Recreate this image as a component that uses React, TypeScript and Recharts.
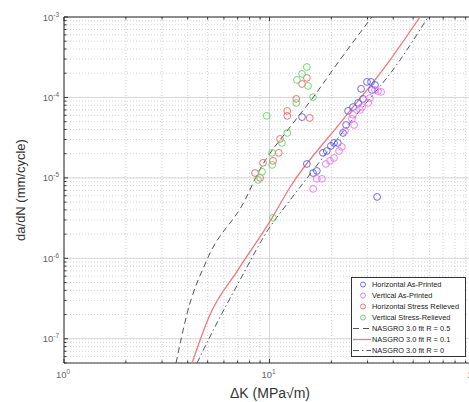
import React from "react"
import { ScatterChart, Scatter, XAxis, YAxis, CartesianGrid, ReferenceLine } from "recharts"

// ΔK (MPa√m) and da/dN (mm/cycle)
const horizontalAsPrintedK = [14.4, 15.2, 16.3, 17.0, 18.2, 19.0, 19.9, 20.6, 21.5, 22.8, 23.6, 24.1, 25.5, 27.0, 27.9, 28.5, 29.8, 31.2, 32.6, 31.5, 33.4]
const horizontalAsPrintedRate = [5.7e-5, 1.49e-5, 1.15e-5, 1.22e-5, 2.05e-5, 2.16e-5, 2.5e-5, 2.72e-5, 2.72e-5, 3.62e-5, 4.55e-5, 6.8e-5, 7.6e-5, 8.55e-5, 1.28e-4, 9.6e-5, 1.56e-4, 1.56e-4, 1.43e-4, 1.24e-4, 5.8e-6]

const verticalAsPrintedK = [32.6, 33.7, 34.9, 30.8, 30.2, 28.2, 27.6, 25.5, 25.2, 25.8, 23.3, 22.5, 21.8, 20.6, 19.7, 18.8, 18.0, 17.0, 16.3]
const verticalAsPrintedRate = [1.24e-4, 1.2e-4, 1.17e-4, 9.86e-5, 8.55e-5, 7.62e-5, 7.0e-5, 6.07e-5, 5.41e-5, 4.55e-5, 3.84e-5, 2.43e-5, 2.16e-5, 1.77e-5, 1.63e-5, 1.49e-5, 9.72e-6, 9.72e-6, 7.3e-6]

const horizontalRelievedK = [15.2, 14.4, 13.5, 12.2, 12.2, 15.7, 11.25, 11.1, 10.4, 9.3, 8.5, 9.0]
const horizontalRelievedRate = [1.75e-4, 1.47e-4, 9.6e-5, 6.8e-5, 5.9e-5, 5.56e-5, 3.05e-5, 2.05e-5, 1.63e-5, 1.54e-5, 1.15e-5, 1.0e-5]

const verticalRelievedK = [15.2, 14.4, 13.6, 15.4, 16.3, 13.5, 9.7, 12.2, 11.5, 10.3, 10.3, 9.2, 8.8, 10.4]
const verticalRelievedRate = [2.39e-4, 1.96e-4, 1.65e-4, 1.39e-4, 1.01e-4, 8.55e-5, 5.9e-5, 3.62e-5, 2.72e-5, 2.05e-5, 1.45e-5, 1.19e-5, 9.45e-6, 3.19e-6]

// NASGRO 3.0 fits
const fitR05K = [3.51, 3.97, 4.96, 7.6, 8.79, 12.6, 15.7, 22.0, 31.5]
const fitR05Rate = [5e-8, 2.05e-7, 9.6e-7, 5.3e-6, 1.15e-5, 4.3e-5, 8.8e-5, 2.92e-4, 1e-3]
const fitR01K = [4.2, 5.13, 7.03, 10.3, 12.6, 22.0, 38.6, 54.0]
const fitR01Rate = [5e-8, 1.99e-7, 7.2e-7, 3.19e-6, 7.7e-6, 4.75e-5, 2.92e-4, 1e-3]
const fitR0K = [4.44, 5.43, 7.19, 9.84, 12.6, 14.1, 24.6, 43.2, 59.1]
const fitR0Rate = [5e-8, 1.41e-7, 5.4e-7, 2.26e-6, 5.3e-6, 7.7e-6, 4.82e-5, 2.92e-4, 1e-3]

const xDecades = [1, 10, 100]
const yDecades = [1e-8, 1e-7, 1e-6, 1e-5, 1e-4, 1e-3]
const X_MIN = 1
const X_MAX = 100
const Y_MIN = 5e-8
const Y_MAX = 1e-3

const FONT = "'Liberation Sans', Arial, sans-serif"
const PLOT_TOP = 17
const X_TICK_MARGIN = 3
const Y_TICK_MARGIN = 4

const zip = (xs: number[], ys: number[]) => xs.map((x, i) => ({ x, y: ys[i] }))

// minor + major tick values inside a range
const logTicks = (decades: number[], lo: number, hi: number) => {
  const out: number[] = []
  decades.forEach((d) => {
    for (let m = 1; m <= 9; m++) {
      const v = d * m
      if (v >= lo * 0.999 && v <= hi * 1.001) out.push(v)
    }
  })
  return out
}
const isDecade = (v: number) => Math.abs(Math.log10(v) - Math.round(Math.log10(v))) < 1e-6

const xTicks = logTicks(xDecades, X_MIN, X_MAX)
const yTicks = logTicks(yDecades, Y_MIN, Y_MAX)

const XTick = (props: any) => {
  const { x, y, payload } = props
  const v = payload.value
  const major = isDecade(v)
  const len = major ? 4 : 2.5
  const axisY = y - X_TICK_MARGIN
  return (
    <g>
      <line x1={x} x2={x} y1={axisY} y2={axisY - len} stroke="#333" />
      <line x1={x} x2={x} y1={PLOT_TOP} y2={PLOT_TOP + len} stroke="#333" />
      {major && (
        <text x={x - 1} y={axisY + 15} textAnchor="middle" fill="#666" fontSize={9.5} fontFamily={FONT}>
          10
          <tspan dy={-4} fontSize={6.5}>{Math.round(Math.log10(v))}</tspan>
        </text>
      )}
    </g>
  )
}

const YTick = (props: any) => {
  const { x, y, payload } = props
  const v = payload.value
  const major = isDecade(v)
  const len = major ? 4 : 2.5
  const axisX = x + Y_TICK_MARGIN
  return (
    <g>
      <line x1={axisX} x2={axisX + len} y1={y} y2={y} stroke="#333" />
      {major && (
        <text x={x - 1} y={y + 3.5} textAnchor="end" fill="#666" fontSize={9.5} fontFamily={FONT}>
          10
          <tspan dy={-4} fontSize={6.5}>{Math.round(Math.log10(v))}</tspan>
        </text>
      )}
    </g>
  )
}

const noDot = () => <g />

const markerSeries = [
  { name: "Horizontal As-Printed", color: "#5a5ae6", data: zip(horizontalAsPrintedK, horizontalAsPrintedRate) },
  { name: "Vertical As-Printed", color: "#ec70ec", data: zip(verticalAsPrintedK, verticalAsPrintedRate) },
  { name: "Horizontal Stress Relieved", color: "#f06464", data: zip(horizontalRelievedK, horizontalRelievedRate) },
  { name: "Vertical Stress-Relieved", color: "#5fd65f", data: zip(verticalRelievedK, verticalRelievedRate) },
]

const fitSeries = [
  { name: "NASGRO 3.0 fit R = 0.5", color: "#555555", dash: "6 4", width: 1, data: zip(fitR05K, fitR05Rate) },
  { name: "NASGRO 3.0 fit R = 0.1", color: "#f37878", dash: undefined, width: 1.3, data: zip(fitR01K, fitR01Rate) },
  { name: "NASGRO 3.0 fit R = 0", color: "#4a5870", dash: "6 3 1.5 3", width: 1, data: zip(fitR0K, fitR0Rate) },
]

const circle = (color: string) => (props: any) => (
  <circle cx={props.cx} cy={props.cy} r={3.4} fill="none" stroke={color} strokeWidth={0.9} />
)

function LegendBox() {
  return (
    <div
      style={{
        position: "absolute",
        left: 351,
        top: 277,
        width: 113,
        height: 77,
        border: "1px solid #333",
        background: "#fff",
        fontFamily: FONT,
        fontSize: 7.4,
        color: "#222",
        paddingTop: 1,
      }}
    >
      {markerSeries.map((s) => (
        <div key={s.name} style={{ height: 11, display: "flex", alignItems: "center" }}>
          <svg width={20} height={11}>
            <circle cx={11} cy={5.5} r={2.5} fill="none" stroke={s.color} strokeWidth={0.9} />
          </svg>
          <span style={{ whiteSpace: "nowrap" }}>{s.name}</span>
        </div>
      ))}
      {fitSeries.map((s) => (
        <div key={s.name} style={{ height: 11, display: "flex", alignItems: "center" }}>
          <svg width={20} height={11}>
            <line x1={1} x2={19} y1={5.5} y2={5.5} stroke={s.color} strokeWidth={s.width} strokeDasharray={s.dash} />
          </svg>
          <span style={{ whiteSpace: "nowrap" }}>{s.name}</span>
        </div>
      ))}
    </div>
  )
}

export default function App() {
  return (
    <div style={{ position: "absolute", left: 0, top: 0, width: 469, height: 402, overflow: "hidden", background: "#fff" }}>
      <ScatterChart width={490} height={402} margin={{ top: PLOT_TOP, right: 15, bottom: 0, left: 0 }}>
        <CartesianGrid stroke="#d4d4d4" strokeDasharray="1 2" />
        {xDecades.map((v) => (
          <ReferenceLine key={`gx${v}`} x={v} stroke="#d6d6d6" />
        ))}
        {yDecades.filter((v) => v >= Y_MIN).map((v) => (
          <ReferenceLine key={`gy${v}`} y={v} stroke="#d6d6d6" />
        ))}
        <XAxis
          type="number"
          dataKey="x"
          scale="log"
          domain={[X_MIN, X_MAX]}
          allowDataOverflow
          ticks={xTicks}
          interval={0}
          height={39}
          tickSize={0}
          tickMargin={X_TICK_MARGIN}
          tickLine={false}
          axisLine={{ stroke: "#333" }}
          tick={<XTick />}
        />
        <YAxis
          type="number"
          dataKey="y"
          scale="log"
          domain={[Y_MIN, Y_MAX]}
          allowDataOverflow
          ticks={yTicks}
          interval={0}
          width={64}
          tickSize={0}
          tickMargin={Y_TICK_MARGIN}
          tickLine={false}
          axisLine={{ stroke: "#333" }}
          tick={<YTick />}
        />
        <ReferenceLine y={Y_MAX} stroke="#333" strokeWidth={1.2} />
        {fitSeries.map((s) => (
          <Scatter
            key={s.name}
            name={s.name}
            data={s.data}
            line={{ stroke: s.color, strokeWidth: s.width, strokeDasharray: s.dash }}
            lineJointType="monotoneX"
            shape={noDot}
            isAnimationActive={false}
          />
        ))}
        {markerSeries.map((s) => (
          <Scatter key={s.name} name={s.name} data={s.data} shape={circle(s.color)} isAnimationActive={false} />
        ))}
      </ScatterChart>
      <div
        style={{
          position: "absolute",
          left: 20,
          top: 190,
          transform: "translate(-50%, -50%) rotate(-90deg)",
          whiteSpace: "nowrap",
          fontFamily: FONT,
          fontSize: 13,
          color: "#333",
        }}
      >
        da/dN (mm/cycle)
      </div>
      <div
        style={{
          position: "absolute",
          left: 270,
          top: 393,
          transform: "translate(-50%, -50%)",
          whiteSpace: "nowrap",
          fontFamily: FONT,
          fontSize: 14,
          color: "#333",
        }}
      >
        ΔK (MPa√m)
      </div>
      <LegendBox />
    </div>
  )
}
